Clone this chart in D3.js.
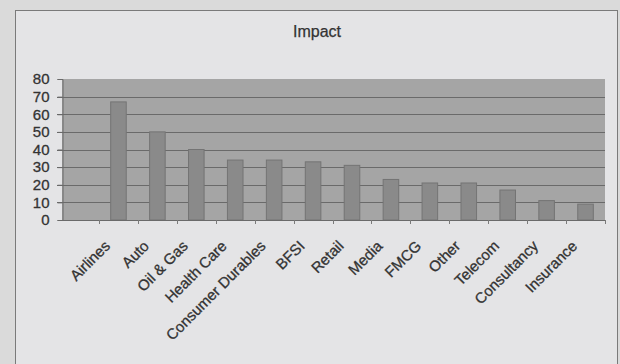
<!DOCTYPE html>
<html>
<head>
<meta charset="utf-8">
<script src="https://cdn.jsdelivr.net/npm/d3@7"></script>
<style>
  html, body { margin: 0; padding: 0; background: #dadada; }
  svg { display: block; }
  text { font-family: "Liberation Sans", Arial, sans-serif; }
</style>
</head>
<body>
<svg id="chart" width="620" height="364"></svg>
<script>
// Impact by sector
const categories = ["Airlines", "Auto", "Oil & Gas", "Health Care", "Consumer Durables",
  "BFSI", "Retail", "Media", "FMCG", "Other", "Telecom", "Consultancy", "Insurance"];
const impact = [67, 50, 40, 34, 34, 33, 31, 23, 21, 21, 17, 11, 9];
const yTicks = [0, 10, 20, 30, 40, 50, 60, 70, 80];
const chartTitle = "Impact";

const svg = d3.select("#chart");

// frame and plot geometry
const panel = { left: 15, top: 10, right: 617, bottom: 370 };
const plot = { left: 62, top: 79, right: 605, bottom: 220 };
const bandStart = 99;
const textColor = "#333";

// chart panel
svg.append("rect")
  .attr("x", panel.left + 0.5).attr("y", panel.top + 0.5)
  .attr("width", panel.right - panel.left).attr("height", panel.bottom - panel.top)
  .attr("fill", "#e4e4e6").attr("stroke", "#7a7a7a").attr("stroke-width", 1);

svg.append("text")
  .attr("x", 317).attr("y", 37)
  .attr("text-anchor", "middle")
  .attr("font-size", 16).attr("fill", textColor)
  .attr("stroke", textColor).attr("stroke-width", 0.25)
  .text(chartTitle);

const y = d3.scaleLinear().domain([0, 80]).range([plot.bottom, plot.top]);
const x = d3.scaleBand().domain(categories)
  .range([bandStart, plot.right])
  .paddingInner(0.6).paddingOuter(0.3);

// plot area
svg.append("rect")
  .attr("x", plot.left).attr("y", plot.top)
  .attr("width", plot.right - plot.left).attr("height", plot.bottom - plot.top)
  .attr("fill", "#a5a5a5");

// gridlines
svg.append("g").selectAll("line")
  .data(yTicks.filter(t => t > 0 && t < 80))
  .join("line")
  .attr("x1", plot.left - 5).attr("x2", plot.right)
  .attr("y1", d => Math.round(y(d)) + 0.5).attr("y2", d => Math.round(y(d)) + 0.5)
  .attr("stroke", "#6a6a6a").attr("stroke-width", 1.2);

// bars
svg.append("g").selectAll("rect")
  .data(categories.map((c, i) => ({ c, v: impact[i] })))
  .join("rect")
  .attr("x", d => x(d.c))
  .attr("y", d => y(d.v))
  .attr("width", x.bandwidth())
  .attr("height", d => y(0) - y(d.v))
  .attr("fill", "#8a8a8a")
  .attr("stroke", "#747474").attr("stroke-width", 1);

// y axis
const yAxis = d3.axisLeft(y).tickValues(yTicks).tickSize(5).tickPadding(8);
const gy = svg.append("g").attr("transform", `translate(${plot.left + 0.5},0)`).call(yAxis);
gy.select(".domain").attr("stroke", "#6a6a6a");
gy.selectAll(".tick line").attr("stroke", "#6a6a6a");
gy.selectAll(".tick text")
  .attr("font-size", 15).attr("fill", textColor)
  .attr("stroke", textColor).attr("stroke-width", 0.3)
  .attr("font-family", "Liberation Sans, Arial, sans-serif");

// x axis line and category boundary ticks
const step = x.step();
const x0 = x.range()[0];
svg.append("line")
  .attr("x1", plot.left).attr("x2", plot.right)
  .attr("y1", plot.bottom + 0.5).attr("y2", plot.bottom + 0.5)
  .attr("stroke", "#6a6a6a");
svg.append("g").selectAll("line")
  .data(d3.range(categories.length + 1))
  .join("line")
  .attr("x1", i => Math.round(x0 + i * step) + 0.5)
  .attr("x2", i => Math.round(x0 + i * step) + 0.5)
  .attr("y1", plot.bottom).attr("y2", plot.bottom + 4)
  .attr("stroke", "#7a7a7a");

// rotated category labels
svg.append("g").selectAll("text")
  .data(categories)
  .join("text")
  .attr("transform", d => `translate(${x(d) + x.bandwidth() / 2 - 7.5},247) rotate(-45)`)
  .attr("text-anchor", "end")
  .attr("font-size", 15).attr("fill", textColor)
  .attr("stroke", textColor).attr("stroke-width", 0.3)
  .text(d => d);
</script>
</body>
</html>
